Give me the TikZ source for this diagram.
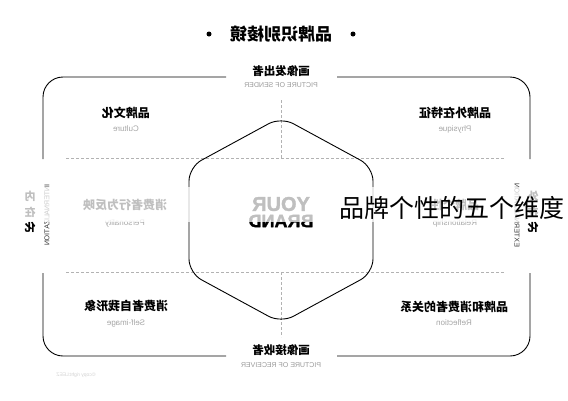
\documentclass[tikz,border=0pt]{standalone}
\usepackage{fontspec}
\usepackage{graphicx}
\setmainfont{Liberation Sans}
\newfontfamily\heavy{Liberation Sans}[BoldFeatures={FakeBold=1.5}]
\newfontfamily\cjk{Noto Sans CJK SC}
\newcommand{\mirr}[1]{\scalebox{-1}[1]{#1}}
\usetikzlibrary{calc}

\begin{document}
\begin{tikzpicture}[x=1pt, y=-1pt,
    cnlabel/.style={font=\cjk\bfseries\fontsize{12}{12}\selectfont, inner sep=0pt},
    enlabel/.style={font=\fontsize{8}{8}\selectfont, text=gray!70, inner sep=0pt},
    caplabel/.style={font=\fontsize{7}{7}\selectfont, text=gray!80, inner sep=0pt},
    dots/.style={densely dashed, gray!60, line width=0.5pt},
    frame/.style={line width=0.9pt, rounded corners=20pt}]
    \fill[white] (0,0) rectangle (568,400);
    \useasboundingbox (0,0) rectangle (568,400);
    % title
    \node[circle, fill, inner sep=0pt, minimum size=5pt] (dotl) at (209,34) {};
    \node[circle, fill, inner sep=0pt, minimum size=5pt] (dotr) at (353,34) {};
    \node[font=\cjk\bfseries\fontsize{17}{17}\selectfont] (title) at (281,34) {\mirr{品牌识别棱镜}};
    % frame with gaps
    \draw[frame] (226,77) -| (43,159);
    \draw[frame] (337,77) -| (530,159);
    \draw[frame] (226,356) -| (43,273);
    \draw[frame] (337,356) -| (530,273);
    % dashed grid
    \draw[dots] (66,158) -- (504,158);
    \draw[dots] (66,272) -- (504,272);
    \draw[dots] (281,100) -- (281,158);
    \draw[dots] (281,272) -- (281,337);
    % hexagon
    \draw[line width=0.9pt, rounded corners=14pt] (373,220) -- (373,273) -- (281,323) -- (189,273)
        -- (189,167) -- (281,117) -- (373,167) -- cycle;
    \node[font=\heavy\bfseries\fontsize{20}{20}\selectfont] (your) at (281,204) {\mirr{YOUR}};
    \node[font=\heavy\bfseries\fontsize{18}{18}\selectfont] (brand) at (281,221) {\mirr{BRAND}};
    % top and bottom
    \node[cnlabel, font=\cjk\bfseries\fontsize{11.5}{11.5}\selectfont] (sender) at (281,71) {\mirr{画像发出者}};
    \node[caplabel] (sendere) at (281,85) {\mirr{PICTURE OF SENDER}};
    \node[cnlabel, font=\cjk\bfseries\fontsize{11.5}{11.5}\selectfont] (receiver) at (281,350) {\mirr{画像接收者}};
    \node[caplabel] (receivere) at (281,365) {\mirr{PICTURE OF RECEIVER}};
    % six facets
    \node[cnlabel] (culture) at (126,113) {\mirr{品牌文化}};
    \node[enlabel] (culturee) at (126,129) {\mirr{Culture}};
    \node[cnlabel] (physique) at (455,113) {\mirr{品牌外在特征}};
    \node[enlabel] (physiquee) at (455,129) {\mirr{Physique}};
    \node[cnlabel] (personality) at (125,205) {\mirr{消费者行为反映}};
    \node[enlabel] (personalitye) at (125,223) {\mirr{Personality}};
    \node[cnlabel] (relation) at (455,205) {\mirr{品牌个性}};
    \node[enlabel] (relatione) at (455,223) {\mirr{Relationship}};
    \node[cnlabel] (selfimage) at (126,306) {\mirr{消费者自我形象}};
    \node[enlabel] (selfimagee) at (126,323) {\mirr{Self-image}};
    \node[cnlabel] (reflection) at (454,307) {\mirr{品牌和消费者的关系}};
    \node[enlabel] (reflectione) at (454,323) {\mirr{Reflection}};
    % sides
    \node[cnlabel, font=\cjk\bfseries\fontsize{11}{15.5}\selectfont, align=center] (inner) at (30,212)
        {\mirr{内}\\\mirr{在}\\\mirr{化}};
    \node[caplabel, text=black!80, rotate=90] (innere) at (47,215) {\mirr{INTERNALIZATION}};
    \node[cnlabel, font=\cjk\bfseries\fontsize{11}{15.5}\selectfont, align=center] (outer) at (533,212)
        {\mirr{外}\\\mirr{在}\\\mirr{化}};
    \node[caplabel, text=black!80, rotate=-90] (outere) at (517,215) {\mirr{EXTERNALIZATION}};
    \node[font=\fontsize{5}{5}\selectfont, text=gray!35] (copy) at (76,375) {\mirr{\textcopyright copy right:LEEZ}};
    % pasted caption
    \fill[white, fill opacity=0.75] (0,187) rectangle (568,222);
    \node[font=\cjk\fontsize{25}{25}\selectfont, anchor=west, inner sep=0pt] (caption) at (339,208) {品牌个性的五个维度};
\end{tikzpicture}
\end{document}
